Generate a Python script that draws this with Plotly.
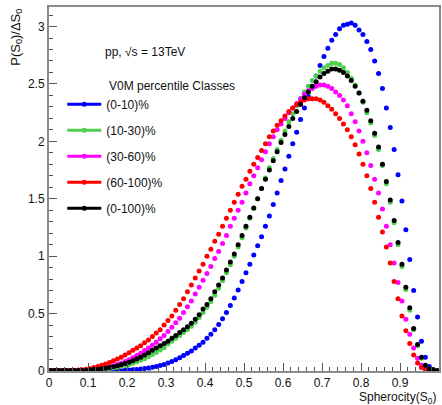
import plotly.graph_objects as go

s0 = [0.005, 0.015, 0.025, 0.035, 0.045, 0.055, 0.065, 0.075, 0.085, 0.095,
      0.105, 0.115, 0.125, 0.135, 0.145, 0.155, 0.165, 0.175, 0.185, 0.195,
      0.205, 0.215, 0.225, 0.235, 0.245, 0.255, 0.265, 0.275, 0.285, 0.295,
      0.305, 0.315, 0.325, 0.335, 0.345, 0.355, 0.365, 0.375, 0.385, 0.395,
      0.405, 0.415, 0.425, 0.435, 0.445, 0.455, 0.465, 0.475, 0.485, 0.495,
      0.505, 0.515, 0.525, 0.535, 0.545, 0.555, 0.565, 0.575, 0.585, 0.595,
      0.605, 0.615, 0.625, 0.635, 0.645, 0.655, 0.665, 0.675, 0.685, 0.695,
      0.705, 0.715, 0.725, 0.735, 0.745, 0.755, 0.765, 0.775, 0.785, 0.795,
      0.805, 0.815, 0.825, 0.835, 0.845, 0.855, 0.865, 0.875, 0.885, 0.895,
      0.905, 0.915, 0.925, 0.935, 0.945, 0.955, 0.965, 0.975, 0.985, 0.995]

v0_10 = [0.002, 0.002, 0.002, 0.002, 0.002, 0.002, 0.002, 0.002, 0.002, 0.002,
         0.002, 0.002, 0.003, 0.003, 0.003, 0.004, 0.004, 0.005, 0.005, 0.006,
         0.008, 0.010, 0.013, 0.017, 0.021, 0.026, 0.032, 0.039, 0.047, 0.056,
         0.070, 0.083, 0.097, 0.115, 0.135, 0.155, 0.175, 0.200, 0.225, 0.250,
         0.285, 0.320, 0.360, 0.405, 0.455, 0.510, 0.570, 0.635, 0.705, 0.780,
         0.855, 0.930, 1.010, 1.090, 1.170, 1.260, 1.350, 1.450, 1.550, 1.660,
         1.760, 1.870, 1.980, 2.080, 2.190, 2.290, 2.390, 2.480, 2.570, 2.660,
         2.740, 2.810, 2.880, 2.930, 2.980, 3.010, 3.020, 3.030, 3.010, 2.970,
         2.930, 2.870, 2.800, 2.700, 2.590, 2.460, 2.290, 2.120, 1.930, 1.710,
         1.480, 1.230, 0.970, 0.700, 0.470, 0.260, 0.120, 0.040, 0.012, 0.004]

v10_30 = [0.004, 0.004, 0.004, 0.004, 0.004, 0.004, 0.004, 0.004, 0.004, 0.004,
          0.006, 0.008, 0.010, 0.013, 0.017, 0.021, 0.026, 0.032, 0.040, 0.048,
          0.057, 0.068, 0.080, 0.093, 0.107, 0.125, 0.143, 0.162, 0.182, 0.203,
          0.235, 0.260, 0.285, 0.310, 0.335, 0.360, 0.390, 0.425, 0.465, 0.510,
          0.555, 0.605, 0.660, 0.720, 0.785, 0.855, 0.925, 1.000, 1.080, 1.160,
          1.245, 1.330, 1.415, 1.500, 1.590, 1.680, 1.770, 1.850, 1.930, 2.010,
          2.090, 2.170, 2.240, 2.310, 2.370, 2.430, 2.480, 2.530, 2.570, 2.610,
          2.640, 2.660, 2.680, 2.680, 2.670, 2.640, 2.600, 2.550, 2.490, 2.420,
          2.340, 2.250, 2.160, 2.050, 1.930, 1.790, 1.630, 1.470, 1.290, 1.100,
          0.910, 0.710, 0.530, 0.360, 0.220, 0.110, 0.045, 0.018, 0.008, 0.003]

v30_60 = [0.005, 0.005, 0.005, 0.005, 0.005, 0.005, 0.005, 0.005, 0.005, 0.005,
          0.010, 0.013, 0.017, 0.022, 0.028, 0.035, 0.045, 0.056, 0.068, 0.082,
          0.097, 0.115, 0.135, 0.155, 0.178, 0.200, 0.225, 0.250, 0.280, 0.310,
          0.345, 0.380, 0.420, 0.460, 0.510, 0.560, 0.610, 0.670, 0.730, 0.790,
          0.850, 0.910, 0.980, 1.040, 1.110, 1.180, 1.260, 1.330, 1.400, 1.470,
          1.550, 1.630, 1.700, 1.770, 1.840, 1.910, 1.980, 2.040, 2.100, 2.150,
          2.200, 2.250, 2.290, 2.330, 2.370, 2.410, 2.440, 2.460, 2.480, 2.490,
          2.490, 2.480, 2.460, 2.430, 2.400, 2.360, 2.310, 2.240, 2.170, 2.090,
          2.000, 1.900, 1.790, 1.670, 1.550, 1.410, 1.260, 1.100, 0.940, 0.770,
          0.610, 0.450, 0.320, 0.200, 0.110, 0.050, 0.020, 0.010, 0.004, 0.002]

v60_100 = [0.005, 0.005, 0.005, 0.005, 0.005, 0.005, 0.006, 0.008, 0.010, 0.015,
           0.020, 0.030, 0.040, 0.050, 0.060, 0.075, 0.090, 0.105, 0.120, 0.140,
           0.160, 0.180, 0.200, 0.220, 0.245, 0.270, 0.300, 0.330, 0.360, 0.400,
           0.440, 0.480, 0.530, 0.580, 0.630, 0.690, 0.750, 0.810, 0.870, 0.930,
           1.000, 1.060, 1.130, 1.190, 1.260, 1.330, 1.400, 1.470, 1.540, 1.610,
           1.670, 1.740, 1.800, 1.860, 1.920, 1.980, 2.040, 2.090, 2.140, 2.180,
           2.220, 2.260, 2.290, 2.320, 2.340, 2.360, 2.370, 2.370, 2.370, 2.360,
           2.340, 2.310, 2.280, 2.240, 2.200, 2.150, 2.100, 2.040, 1.970, 1.890,
           1.800, 1.700, 1.590, 1.470, 1.340, 1.210, 1.080, 0.940, 0.780, 0.630,
           0.480, 0.350, 0.240, 0.140, 0.070, 0.030, 0.010, 0.004, 0.002, 0.001]

v0_100 = [0.005, 0.005, 0.005, 0.005, 0.005, 0.005, 0.005, 0.005, 0.005, 0.005,
          0.010, 0.012, 0.015, 0.020, 0.025, 0.030, 0.037, 0.045, 0.055, 0.065,
          0.077, 0.090, 0.105, 0.120, 0.140, 0.160, 0.180, 0.200, 0.220, 0.240,
          0.260, 0.285, 0.310, 0.335, 0.360, 0.385, 0.415, 0.450, 0.490, 0.540,
          0.580, 0.630, 0.690, 0.750, 0.810, 0.880, 0.950, 1.020, 1.100, 1.180,
          1.260, 1.340, 1.420, 1.500, 1.590, 1.670, 1.750, 1.830, 1.910, 1.990,
          2.060, 2.130, 2.200, 2.260, 2.320, 2.380, 2.430, 2.480, 2.520, 2.560,
          2.590, 2.610, 2.630, 2.630, 2.620, 2.600, 2.570, 2.530, 2.480, 2.420,
          2.350, 2.270, 2.180, 2.070, 1.950, 1.800, 1.650, 1.490, 1.310, 1.120,
          0.930, 0.730, 0.550, 0.370, 0.230, 0.120, 0.050, 0.020, 0.010, 0.003]

series_names = ["(0-10)%", "(10-30)%", "(30-60)%", "(60-100)%", "(0-100)%"]
series_values = [v0_10, v10_30, v30_60, v60_100, v0_100]
series_colors = ["#0000ff", "#4fcf4f", "#ff00ff", "#ff0000", "#000000"]

x_ticks = [0, 0.1, 0.2, 0.3, 0.4, 0.5, 0.6, 0.7, 0.8, 0.9]
x_ticklabels = ["0", "0.1", "0.2", "0.3", "0.4", "0.5", "0.6", "0.7", "0.8", "0.9"]
y_ticks = [0, 0.5, 1, 1.5, 2, 2.5, 3]
y_ticklabels = ["0", "0.5", "1", "1.5", "2", "2.5", "3"]

FONT = "Liberation Sans, Arial, sans-serif"

fig = go.Figure()
for name, vals, col in zip(series_names, series_values, series_colors):
    fig.add_trace(go.Scatter(x=s0, y=vals, mode="markers", showlegend=False,
                             marker=dict(color=col, size=5, symbol="circle"),
                             name=name))
for i, (name, col) in enumerate(zip(series_names, series_colors)):
    fig.add_trace(go.Scatter(x=[None], y=[None], mode="lines+markers", name=name,
                             legendgroup="g%d" % i,
                             line=dict(color=col, width=3),
                             marker=dict(color=col, size=5, symbol="circle")))

axis_common = dict(showgrid=False, zeroline=False, showline=True, mirror=True,
                   linecolor="#8a8a8a", linewidth=2, ticks="inside",
                   tickcolor="#555555", tickwidth=1, ticklen=8,
                   tickfont=dict(family=FONT, size=12, color="#111111"))

fig.update_layout(
    width=442, height=405,
    margin=dict(l=49, r=1, t=7, b=34),
    paper_bgcolor="white", plot_bgcolor="white",
    font=dict(family=FONT, size=12, color="#111111"),
    xaxis=dict(range=[0, 1], tickvals=x_ticks, ticktext=x_ticklabels,
               minor=dict(ticks="inside", ticklen=4, dtick=0.02, tick0=0,
                          tickcolor="#555555", showgrid=False),
               **axis_common),
    yaxis=dict(range=[0, 3.17], tickvals=y_ticks, ticktext=y_ticklabels,
               minor=dict(ticks="inside", ticklen=4, dtick=0.1, tick0=0,
                          tickcolor="#555555", showgrid=False),
               **axis_common),
    legend=dict(x=0.034, y=0.773, xanchor="left", yanchor="top",
                bgcolor="rgba(0,0,0,0)", tracegroupgap=7, itemwidth=34,
                font=dict(family=FONT, size=12, color="#111111")),
    annotations=[
        dict(text="pp, √s = 13TeV", x=0.138, y=0.876, xref="paper", yref="paper",
             xanchor="left", yanchor="middle", showarrow=False,
             font=dict(family=FONT, size=12, color="#111111")),
        dict(text="V0M percentile Classes", x=0.148, y=0.783, xref="paper", yref="paper",
             xanchor="left", yanchor="middle", showarrow=False,
             font=dict(family=FONT, size=12, color="#111111")),
        dict(text="P(S<sub>0</sub>)/ΔS<sub>0</sub>", x=-0.084, y=1.0,
             xref="paper", yref="paper", xanchor="center", yanchor="top",
             textangle=-90, showarrow=False,
             font=dict(family=FONT, size=13, color="#111111")),
        dict(text="Spherocity(S<sub>0</sub>)", x=0.998, y=-0.046,
             xref="paper", yref="paper", xanchor="right", yanchor="top",
             showarrow=False, font=dict(family=FONT, size=12, color="#111111")),
    ],
)

fig.write_html("out.html", config={"displayModeBar": False},
               post_script="document.body.style.margin='0';document.body.style.overflow='hidden';")
